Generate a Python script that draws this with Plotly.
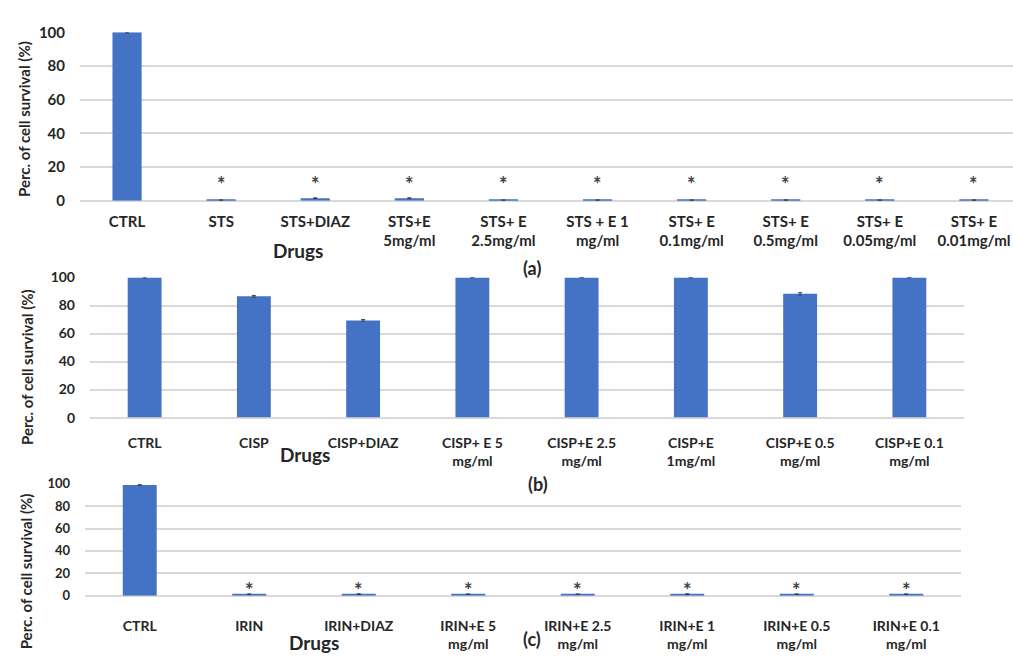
import plotly.graph_objects as go

W, H = 1013, 662

# ---- data ----
sts_labels = ["CTRL", "STS", "STS+DIAZ", "STS+E<br>5mg/ml", "STS+ E<br>2.5mg/ml",
              "STS + E 1<br>mg/ml", "STS+ E<br>0.1mg/ml", "STS+ E<br>0.5mg/ml",
              "STS+ E<br>0.05mg/ml", "STS+ E<br>0.01mg/ml"]
sts_values = [100, 0.3, 1.5, 1.5, 0.3, 0.3, 0.3, 0.3, 0.3, 0.3]
sts_errors = [0.4, 0.2, 0.2, 0.2, 0.2, 0.2, 0.2, 0.2, 0.2, 0.2]
sts_signif = [False, True, True, True, True, True, True, True, True, True]

cisp_labels = ["CTRL", "CISP", "CISP+DIAZ", "CISP+ E 5<br>mg/ml", "CISP+E 2.5<br>mg/ml",
               "CISP+E<br>1mg/ml", "CISP+E 0.5<br>mg/ml", "CISP+E 0.1<br>mg/ml"]
cisp_values = [100, 86.6, 69.4, 100, 100, 100, 88.4, 100]
cisp_errors = [0.3, 0.6, 0.6, 0, 0, 0, 0.8, 0]

irin_labels = ["CTRL", "IRIN", "IRIN+DIAZ", "IRIN+E 5<br>mg/ml", "IRIN+E 2.5<br>mg/ml",
               "IRIN+E 1<br>mg/ml", "IRIN+E 0.5<br>mg/ml", "IRIN+E 0.1<br>mg/ml"]
irin_values = [99, 1.3, 1.3, 1.3, 1.3, 1.3, 1.3, 1.3]
irin_errors = [0.5, 0.2, 0.4, 0.2, 0.2, 0.4, 0.2, 0.2]
irin_signif = [False, True, True, True, True, True, True, True]

y_ticks = [0, 20, 40, 60, 80, 100]
panel_tags = ["(a)", "(b)", "(c)"]

# ---- style ----
BLUE = "#4472C4"
GRID = "#d9d9d9"
FONT = "Lato"
TXT = "#262626"


def px_x(x):
    return x / W


def px_y(y):
    return 1 - y / H


fig = go.Figure()

# panel geometry in pixels: (x_left, x_right_of_full_axis, y_zero, y_hundred)
panels = [
    dict(labels=sts_labels, values=sts_values, errors=sts_errors, x0=80, x1=1021, yz=196, yh=23,
         tick=15, ytick=15, standoff=10, sig=sts_signif, sig_y=10),
    dict(labels=cisp_labels, values=cisp_values, errors=cisp_errors, x0=90, x1=964, yz=419, yh=275,
         tick=14, ytick=14, standoff=15, sig=None, sig_y=None),
    dict(labels=irin_labels, values=irin_values, errors=irin_errors, x0=85, x1=961, yz=602, yh=487,
         tick=14, ytick=13, standoff=20, sig=irin_signif, sig_y=5),
]

for i, p in enumerate(panels, start=1):
    xa = "x" if i == 1 else f"x{i}"
    ya = "y" if i == 1 else f"y{i}"
    n = len(p["labels"])
    fig.add_trace(go.Bar(
        x=p["labels"], y=p["values"], xaxis=xa, yaxis=ya,
        marker=dict(color=BLUE, line=dict(width=0)),
        error_y=dict(type="data", array=p["errors"], color="#404040", thickness=1, width=2),
        showlegend=False,
    ))
    right = min(p["x1"], W)
    span = n * (right - p["x0"]) / (p["x1"] - p["x0"])
    fig.layout[f"xaxis{'' if i == 1 else i}"] = dict(
        domain=[px_x(p["x0"]), px_x(right)], anchor=ya,
        type="category", range=[-0.5, -0.5 + span],
        showgrid=False, showline=False, zeroline=False, ticks="",
        tickfont=dict(family=FONT, size=p["tick"], color=TXT, weight="bold"),
        ticklabelstandoff=p["standoff"], fixedrange=True,
    )
    fig.layout[f"yaxis{'' if i == 1 else i}"] = dict(
        domain=[px_y(p["yz"]), px_y(p["yh"])], anchor=xa,
        range=[0, 100], tickvals=y_ticks,
        showgrid=True, gridcolor=GRID, gridwidth=1.5,
        zeroline=True, zerolinecolor=GRID, zerolinewidth=1.5,
        showline=False, ticks="",
        tickfont=dict(family=FONT, size=p["ytick"], color=TXT, weight="bold"),
        ticklabelstandoff=14, fixedrange=True,
    )
    if p["sig"]:
        for lab, s in zip(p["labels"], p["sig"]):
            if s:
                fig.add_annotation(x=lab, y=p["sig_y"], xref=xa, yref=ya, text="*",
                                   showarrow=False, yanchor="middle",
                                   font=dict(family=FONT, size=20, color="#404040", weight="bold"))

# axis titles and panel tags
ytitle = "Perc. of cell survival (%)"
for (xc, yc) in [(24, 112), (27, 367), (26, 577)]:
    fig.add_annotation(x=px_x(xc), y=px_y(yc), xref="paper", yref="paper", text=ytitle,
                       textangle=-90, showarrow=False, xanchor="center", yanchor="middle",
                       font=dict(family=FONT, size=15, color=TXT, weight="bold"))

for (xc, yc) in [(298, 247), (305, 457), (314, 650)]:
    fig.add_annotation(x=px_x(xc), y=px_y(yc), xref="paper", yref="paper", text="Drugs",
                       showarrow=False, xanchor="center", yanchor="middle",
                       font=dict(family=FONT, size=19, color=TXT, weight="bold"))

for tag, (xc, yc) in zip(panel_tags, [(532, 265), (538, 487), (532, 647)]):
    fig.add_annotation(x=px_x(xc), y=px_y(yc), xref="paper", yref="paper", text=tag,
                       showarrow=False, xanchor="center", yanchor="middle",
                       font=dict(family=FONT, size=18, color=TXT, weight="bold"))

fig.update_layout(
    width=W, height=H,
    margin=dict(l=0, r=0, t=0, b=0),
    paper_bgcolor="white", plot_bgcolor="white",
    bargap=0.69,
)

fig.write_html("out.html")
